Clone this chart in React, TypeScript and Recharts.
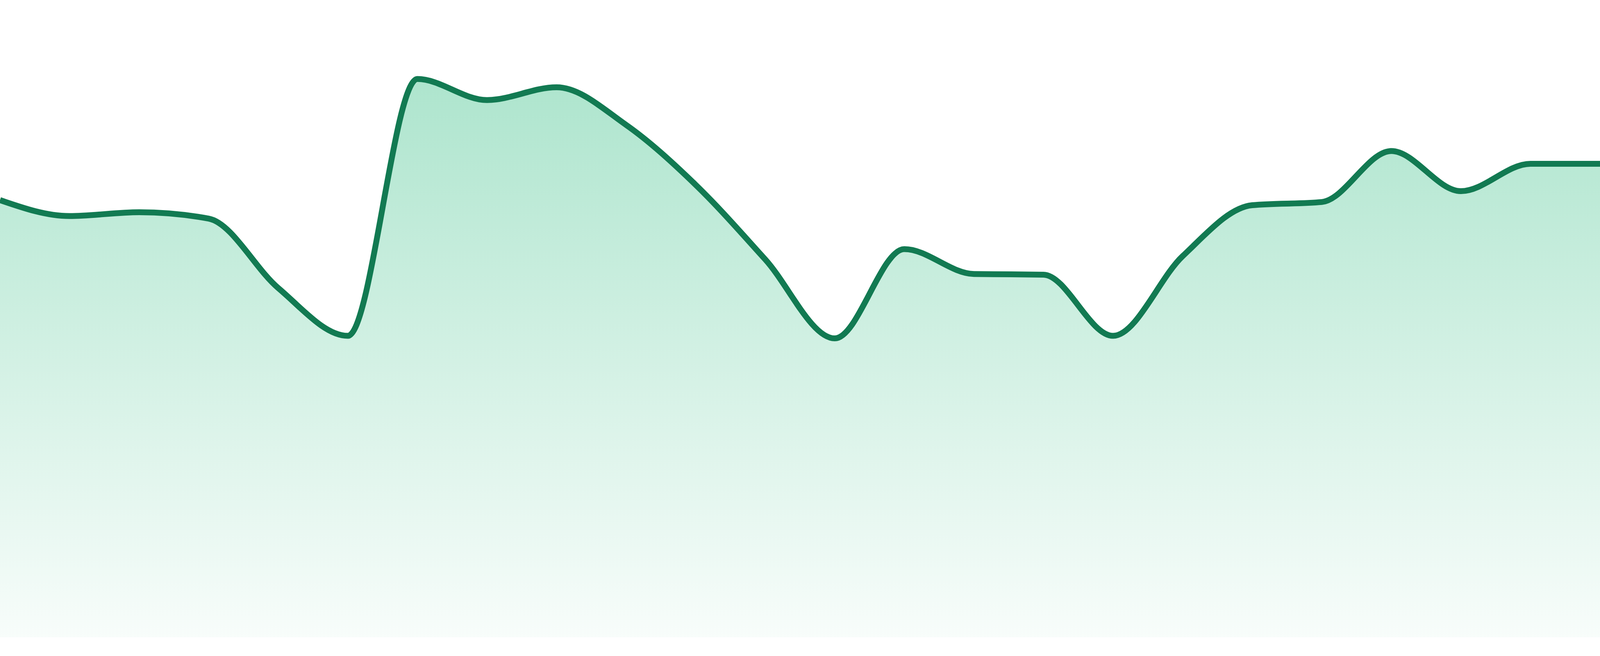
import React from 'react';
import { AreaChart, Area, XAxis, YAxis } from 'recharts';

const categories = [
  'P01', 'P02', 'P03', 'P04', 'P05', 'P06', 'P07', 'P08',
  'P09', 'P10', 'P11', 'P12', 'P13', 'P14', 'P15', 'P16',
  'P17', 'P18', 'P19', 'P20', 'P21', 'P22', 'P23', 'P24',
];

const values = [
  68.6, 66.1, 66.7, 65.7, 54.8, 47.3, 87.6, 84.3,
  86.3, 80.4, 71.0, 59.3, 46.9, 60.9, 57.0, 56.9,
  47.3, 59.8, 67.8, 68.3, 76.3, 70.0, 74.3, 74.3,
];

const yDomain = [0, 100];

export default function App() {
  const data = categories.map((name, i) => ({ name, value: values[i] }));
  return (
    <div style={{ position: 'absolute', left: 0, top: 0, width: 4096, height: 1680, background: '#ffffff' }}>
      <AreaChart width={4096} height={1632} data={data} margin={{ top: 0, right: 0, bottom: 0, left: 0 }}>
        <defs>
          <linearGradient id="fillGrad" x1="0" y1="0" x2="0" y2="1">
            <stop offset="0%" stopColor="#0fb26d" stopOpacity={0.34} />
            <stop offset="100%" stopColor="#0fb26d" stopOpacity={0.03} />
          </linearGradient>
        </defs>
        <XAxis dataKey="name" hide />
        <YAxis hide domain={yDomain} />
        <Area
          type="monotone"
          dataKey="value"
          stroke="#127a52"
          strokeWidth={15}
          fill="url(#fillGrad)"
          fillOpacity={1}
          dot={false}
          activeDot={false}
          isAnimationActive={false}
        />
      </AreaChart>
    </div>
  );
}
